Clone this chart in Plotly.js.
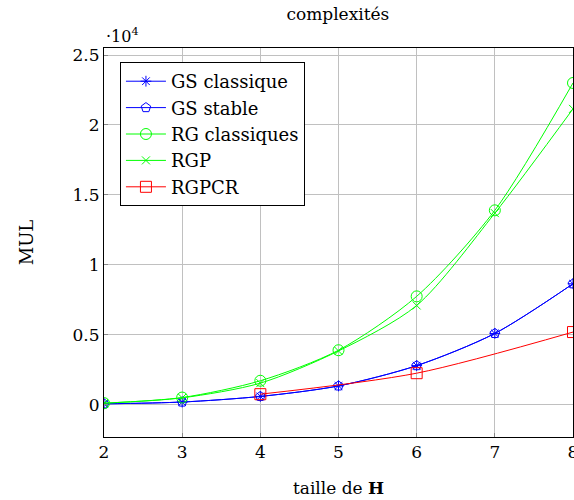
<!DOCTYPE html>
<html>
<head>
<meta charset="utf-8">
<script src="https://cdn.plot.ly/plotly-3.0.1.min.js"></script>
<style>html,body{margin:0;padding:0;background:#fff}#chart{width:574px;height:500px}</style>
</head>
<body>
<div id="chart"></div>
<script>
// values in units of 10^4 MUL
const xAll = [2, 3, 4, 5, 6, 7, 8];
const gsClassique = [0.007, 0.02, 0.06, 0.135, 0.28, 0.51, 0.865];
const gsStable = [0.007, 0.02, 0.06, 0.135, 0.28, 0.51, 0.865];
const rgClassiques = [0.012, 0.052, 0.172, 0.39, 0.775, 1.39, 2.30];
const rgp = [0.012, 0.05, 0.155, 0.385, 0.71, 1.37, 2.115];
const xPCR = [4, 6, 8];
const rgpcr = [0.076, 0.226, 0.52];
const yTicks = [0, 0.5, 1, 1.5, 2, 2.5];
const yTickText = ['0', '0.5', '1', '1.5', '2', '2.5'];

const FONT = 'DejaVu Serif, Liberation Serif, serif';
function tr(name, x, y, color, symbol, size) {
  return {
    x: x, y: y, name: name, type: 'scatter', mode: 'lines+markers',
    line: {color: color, width: 1, shape: 'spline', smoothing: 0.8},
    marker: {symbol: symbol, size: size, color: color, line: {color: color, width: 1}},
    cliponaxis: true
  };
}
const data = [
  tr('GS classique', xAll, gsClassique, '#0000ff', 'asterisk-open', 9),
  tr('GS stable', xAll, gsStable, '#0000ff', 'pentagon-open', 10),
  tr('RG classiques', xAll, rgClassiques, '#00ff00', 'circle-open', 11),
  tr('RGP', xAll, rgp, '#00ff00', 'x-thin-open', 8),
  tr('RGPCR', xPCR, rgpcr, '#ff0000', 'square-open', 11)
];
const layout = {
  width: 574, height: 500,
  margin: {l: 104, r: 1, t: 48, b: 63},
  paper_bgcolor: '#fff', plot_bgcolor: '#fff',
  font: {family: FONT, size: 17, color: '#000'},
  showlegend: true,
  title: {text: 'complexités', font: {family: FONT, size: 17}, x: 0.5886, xanchor: 'center', y: 0.972, yanchor: 'middle'},
  xaxis: {
    range: [2, 8], tickvals: xAll, ticktext: xAll.map(String),
    showgrid: true, gridcolor: '#c0c0c0', gridwidth: 1,
    zeroline: false, showline: true, linecolor: '#000', linewidth: 1, mirror: true,
    ticks: 'inside', ticklen: 4, tickcolor: '#888', ticklabeloverflow: 'allow',
    tickfont: {family: FONT, size: 17},
    title: {text: 'taille de <b>H</b>', font: {family: FONT, size: 17}, standoff: 20}
  },
  yaxis: {
    range: [-0.23, 2.55], tickvals: yTicks, ticktext: yTickText,
    showgrid: true, gridcolor: '#c0c0c0', gridwidth: 1,
    zeroline: false, showline: true, linecolor: '#000', linewidth: 1, mirror: true,
    ticks: 'inside', ticklen: 4, tickcolor: '#888',
    tickfont: {family: FONT, size: 17},
    title: {text: 'MUL', font: {family: FONT, size: 18}, standoff: 34}
  },
  legend: {
    x: 0.034, y: 0.964, xanchor: 'left', yanchor: 'top',
    bgcolor: '#fff', bordercolor: '#000', borderwidth: 1,
    font: {family: FONT, size: 18}, itemwidth: 40
  },
  annotations: [{
    xref: 'paper', yref: 'paper', x: 0, y: 1.0, xanchor: 'left', yanchor: 'bottom',
    text: '·10<sup>4</sup>', showarrow: false, font: {family: FONT, size: 16}, yshift: 0
  }]
};
Plotly.newPlot('chart', data, layout, {displayModeBar: false, staticPlot: true});
</script>
</body>
</html>
